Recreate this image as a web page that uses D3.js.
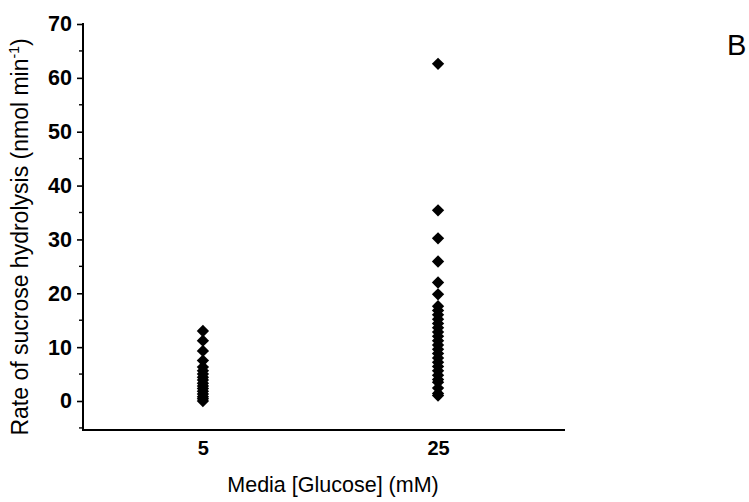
<!DOCTYPE html>
<html><head><meta charset="utf-8">
<script src="https://cdn.jsdelivr.net/npm/d3@7/dist/d3.min.js"></script>
<style>body{margin:0;background:#fff}svg{display:block}text{font-family:"Liberation Sans",Arial,sans-serif}</style>
</head><body>
<svg id="c" width="749" height="502"></svg>
<script>
const categories = [5, 25];
const glucose5 = [13.0, 11.2, 9.3, 7.5, 6.3, 5.6, 5.0, 4.4, 3.9, 3.3, 2.8, 2.3, 1.8, 1.3, 0.8, 0.4, 0.0];
const glucose25 = [62.6, 35.4, 30.2, 25.9, 22.0, 19.8, 17.6, 16.8, 16.0, 15.2, 14.4, 13.6, 12.8, 12.0, 11.2, 10.4, 9.6, 8.8, 8.0, 7.2, 6.4, 5.6, 4.8, 4.0, 3.5, 2.4, 1.4, 1.0];
const yMajorTicks = [0, 10, 20, 30, 40, 50, 60, 70];
const yMinorTicks = [-5, 5, 15, 25, 35, 45, 55, 65];

const svg = d3.select("#c");
const x = d3.scaleLinear().domain([-5.2, 35.8]).range([83, 565]);
const y = d3.scaleLinear().domain([0, 70]).range([401, 24]);
const yBottom = 430;

// y axis
const yAxis = svg.append("g").attr("transform", "translate(83,0)")
  .call(d3.axisLeft(y).tickValues(yMajorTicks).tickSize(6).tickPadding(5).tickFormat(d3.format("d")));
yAxis.select(".domain").remove();
yAxis.selectAll(".tick line").attr("stroke", "#000").attr("stroke-width", 1.6);
yAxis.selectAll(".tick text").attr("font-size", 21.5).attr("font-weight", "bold").attr("fill", "#000");
svg.append("g").attr("transform", "translate(83,0)").selectAll("line").data(yMinorTicks.filter(d => y(d) < yBottom))
  .join("line").attr("x1", -4).attr("x2", 0).attr("y1", d => y(d)).attr("y2", d => y(d))
  .attr("stroke", "#000").attr("stroke-width", 1.4);
svg.append("line").attr("x1", 83).attr("x2", 83).attr("y1", y(70) - 1).attr("y2", yBottom + 1)
  .attr("stroke", "#000").attr("stroke-width", 2);

// x axis
const xAxis = svg.append("g").attr("transform", `translate(0,${yBottom})`)
  .call(d3.axisBottom(x).tickValues(categories).tickSize(0).tickPadding(11).tickFormat(d3.format("d")));
xAxis.select(".domain").remove();
xAxis.selectAll(".tick text").attr("font-size", 20).attr("font-weight", "bold").attr("fill", "#000");
svg.append("line").attr("x1", 82).attr("x2", 565).attr("y1", yBottom).attr("y2", yBottom)
  .attr("stroke", "#000").attr("stroke-width", 2);

// points
const sym = d3.symbol().type(d3.symbolSquare).size(76);
const pts = [];
glucose5.forEach(v => pts.push({c: 5, v}));
glucose25.forEach(v => pts.push({c: 25, v}));
svg.append("g").selectAll("path").data(pts).join("path")
  .attr("d", sym)
  .attr("transform", d => `translate(${x(d.c)},${y(d.v)}) rotate(45)`)
  .attr("fill", "#000");

// titles
const yt = svg.append("text").attr("transform", "translate(28,237) rotate(-90)")
  .attr("text-anchor", "middle").attr("font-size", 23).attr("fill", "#000");
yt.append("tspan").text("Rate of sucrose hydrolysis (nmol min");
yt.append("tspan").text("-1").attr("font-size", 14).attr("dy", -9);
yt.append("tspan").text(")").attr("dy", 9);

svg.append("text").attr("x", 333).attr("y", 492).attr("text-anchor", "middle")
  .attr("font-size", 21.5).attr("fill", "#000").text("Media [Glucose] (mM)");

svg.append("text").attr("x", 727).attr("y", 55).attr("font-size", 29).attr("fill", "#000").text("B");
</script>
</body></html>
